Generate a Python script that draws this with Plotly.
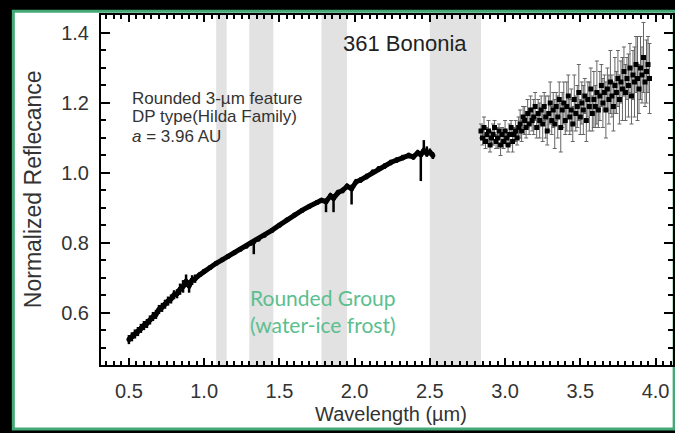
import plotly.graph_objects as go

# ---- data ----
wl_vis = [0.50,0.52,0.54,0.56,0.58,0.60,0.62,0.64,0.66,0.68,
          0.70,0.72,0.74,0.76,0.78,0.80,0.82,0.84,0.86,0.88,
          0.90,0.92,0.94,0.97,1.00,1.04,1.08,1.12,1.16,1.20,
          1.24,1.28,1.31,1.33,1.36,1.40,1.45,1.50,1.55,1.60,
          1.65,1.70,1.75,1.78,1.81,1.84,1.86,1.89,1.92,1.95,
          1.98,2.01,2.04,2.08,2.12,2.16,2.20,2.24,2.28,2.32,
          2.36,2.39,2.42,2.44,2.46,2.48,2.50,2.52]
refl_vis = [0.524,0.532,0.540,0.547,0.556,0.564,0.570,0.580,0.590,0.596,
            0.610,0.616,0.625,0.634,0.640,0.652,0.655,0.668,0.676,0.690,
            0.678,0.694,0.698,0.709,0.719,0.730,0.742,0.752,0.762,0.772,
            0.782,0.791,0.799,0.803,0.811,0.822,0.836,0.851,0.866,0.880,
            0.893,0.905,0.916,0.922,0.918,0.935,0.928,0.944,0.950,0.962,
            0.955,0.975,0.980,0.990,1.002,1.012,1.020,1.030,1.037,1.044,
            1.050,1.046,1.058,1.052,1.064,1.056,1.060,1.050]
err_vis_plus = ([0.013]*17 + [0.016, 0.018, 0.020, 0.016, 0.014, 0.012] + [0.006]*21 +
                [0.010, 0.006, 0.012] + [0.008]*3 + [0.012] + [0.008]*13 +
                [0.030, 0.020, 0.010, 0.010])
err_vis_minus = ([0.013]*17 + [0.016, 0.018, 0.016, 0.020, 0.014, 0.012] + [0.006]*10 + [0.035] + [0.006]*10 +
                 [0.030, 0.006, 0.040] + [0.008]*3 + [0.045] + [0.008]*12 +
                 [0.075, 0.010, 0.010, 0.010, 0.010])

wl_ir = [round(2.84 + 0.01*i, 2) for i in range(113)]
refl_ir = [1.12,1.10,1.13,1.09,1.11,1.12,1.08,1.10,1.11,1.13,
           1.09,1.10,1.12,1.08,1.11,1.09,1.12,1.10,1.08,1.11,
           1.13,1.09,1.11,1.12,1.10,1.13,1.14,1.12,1.16,1.15,
           1.13,1.17,1.14,1.18,1.15,1.16,1.19,1.13,1.17,1.15,
           1.18,1.14,1.19,1.16,1.12,1.17,1.20,1.15,1.18,1.14,
           1.19,1.16,1.21,1.13,1.18,1.20,1.15,1.19,1.22,1.16,
           1.18,1.14,1.21,1.17,1.19,1.23,1.16,1.20,1.18,1.22,
           1.15,1.21,1.19,1.24,1.17,1.21,1.19,1.23,1.18,1.22,
           1.25,1.20,1.23,1.18,1.24,1.21,1.26,1.22,1.19,1.25,
           1.23,1.27,1.21,1.26,1.24,1.29,1.23,1.27,1.25,1.30,
           1.22,1.28,1.26,1.31,1.27,1.24,1.30,1.28,1.33,1.26,
           1.29,1.31,1.27]
err_ir = [0.02,0.02,0.03,0.02,0.02,0.03,0.02,0.02,0.03,0.02,
          0.02,0.03,0.02,0.03,0.02,0.02,0.03,0.02,0.02,0.03,
          0.02,0.03,0.02,0.03,0.02,0.03,0.04,0.03,0.03,0.04,
          0.03,0.04,0.03,0.04,0.03,0.05,0.04,0.03,0.04,0.05,
          0.04,0.05,0.04,0.06,0.04,0.05,0.06,0.04,0.05,0.07,
          0.04,0.06,0.05,0.07,0.05,0.06,0.04,0.07,0.06,0.05,
          0.06,0.05,0.07,0.05,0.06,0.08,0.05,0.06,0.07,0.05,
          0.06,0.05,0.07,0.06,0.05,0.08,0.06,0.09,0.05,0.07,
          0.06,0.07,0.05,0.08,0.06,0.07,0.09,0.06,0.07,0.08,
          0.06,0.08,0.07,0.06,0.09,0.07,0.08,0.06,0.09,0.07,
          0.08,0.07,0.10,0.08,0.12,0.07,0.09,0.08,0.10,0.07,
          0.09,0.08,0.10]

band_starts = [1.08, 1.30, 1.78, 2.50]
band_ends = [1.15, 1.46, 1.95, 2.84]

x_ticks = [0.5, 1.0, 1.5, 2.0, 2.5, 3.0, 3.5, 4.0]
y_ticks = [0.6, 0.8, 1.0, 1.2, 1.4]

info_lines = ["Rounded 3-µm feature", "DP type(Hilda Family)", "<i>a</i> = 3.96 AU"]
info_y = [1.214, 1.160, 1.103]

FONT = "Liberation Sans, Arial"

fig = go.Figure()

fig.add_trace(go.Scatter(
    x=wl_vis, y=refl_vis, mode="lines+markers",
    line=dict(color="black", width=5),
    marker=dict(color="black", size=5),
    error_y=dict(type="data", symmetric=False, array=err_vis_plus, arrayminus=err_vis_minus,
                 color="black", thickness=2.5, width=0),
    showlegend=False))

fig.add_trace(go.Scatter(
    x=wl_ir, y=refl_ir, mode="markers",
    marker=dict(color="black", size=5, symbol="square"),
    error_y=dict(type="data", array=err_ir, color="#666", thickness=1, width=2),
    showlegend=False))

shapes = [dict(type="rect", xref="paper", yref="paper", x0=-0.1533, x1=1.002, y0=-0.183, y1=1.011,
               fillcolor="white", line=dict(color="#45a877", width=3), layer="below")]
for s, e in zip(band_starts, band_ends):
    shapes.append(dict(type="rect", xref="x", yref="paper", x0=s, x1=e, y0=0, y1=1,
                       fillcolor="#e2e2e2", line=dict(width=0), layer="below"))

annotations = [
    dict(x=2.334, y=1.371, xref="x", yref="y", text="361 Bononia", showarrow=False,
         font=dict(family=FONT, size=22, color="#222")),
    dict(x=1.79, y=0.605, xref="x", yref="y", text="Rounded Group<br>(water-ice frost)",
         showarrow=False, font=dict(family="Lato, Open Sans", size=21, color="#5bbf8f")),
    dict(x=0.507, y=-0.14, xref="paper", yref="paper", xanchor="center", yanchor="middle",
         text="Wavelength (µm)", showarrow=False,
         font=dict(family=FONT, size=20, color="#333")),
    dict(x=-0.1185, y=0.503, xref="paper", yref="paper", xanchor="center", yanchor="middle",
         text="Normalized Reflecance", textangle=-90,
         showarrow=False, font=dict(family=FONT, size=23, color="#333")),
]
for txt, yy in zip(info_lines, info_y):
    annotations.append(dict(x=0.505, y=yy, xref="x", yref="y", xanchor="left", yanchor="middle",
                            text=txt, showarrow=False,
                            font=dict(family=FONT, size=17, color="#333")))

fig.update_layout(
    width=675, height=433,
    margin=dict(l=101, r=0, t=15, b=68),
    paper_bgcolor="black", plot_bgcolor="rgba(0,0,0,0)",
    shapes=shapes, annotations=annotations,
    xaxis=dict(range=[0.3146, 4.116], tickvals=x_ticks, ticktext=[f"{v:.1f}" for v in x_ticks],
               ticks="inside", ticklen=7, tickwidth=1.5, tickcolor="black",
               minor=dict(dtick=0.05, tick0=0, ticks="inside", ticklen=4, tickcolor="black", showgrid=False),
               showline=True, linecolor="black", linewidth=2, mirror="allticks", showgrid=False, zeroline=False,
               tickfont=dict(family=FONT, size=20, color="#333"), ticklabelstandoff=7),
    yaxis=dict(range=[0.4514, 1.4514], tickvals=y_ticks, ticktext=[f"{v:.1f}" for v in y_ticks],
               ticks="inside", ticklen=9, tickwidth=1.5, tickcolor="black",
               minor=dict(dtick=0.05, tick0=0, ticks="inside", ticklen=5, tickcolor="black", showgrid=False),
               showline=True, linecolor="black", linewidth=2, mirror="allticks", showgrid=False, zeroline=False,
               tickfont=dict(family=FONT, size=20, color="#333"), ticklabelstandoff=6),
)

fig.write_html("out.html")
